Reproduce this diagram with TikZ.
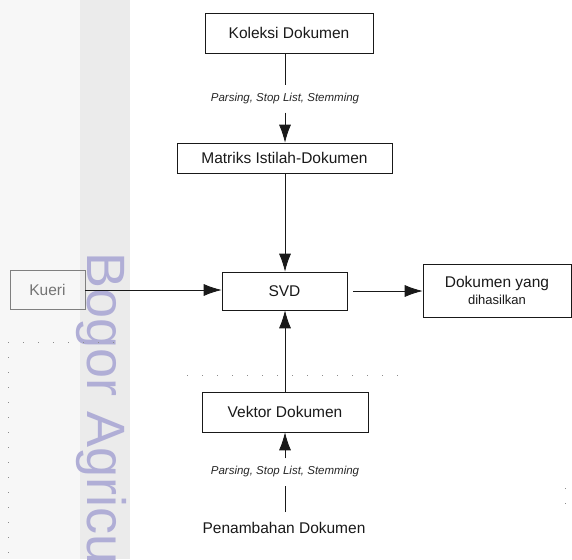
\documentclass[tikz,border=0pt]{standalone}
\usepackage{fontspec}
\setmainfont{Liberation Sans}
\usetikzlibrary{arrows.meta}
\definecolor{wm}{HTML}{B0AED6}
\definecolor{panel}{HTML}{F7F7F7}
\definecolor{band}{HTML}{EBEBEB}
\tikzset{
  box/.style={draw=black!90, line width=0.6pt, inner sep=0pt, font=\fontsize{15.5}{18}\selectfont, text=black!90},
  lab/.style={inner xsep=2pt, inner ysep=8pt, font=\itshape\fontsize{11.5}{13}\selectfont, text=black!85},
  arr/.style={-{Latex[length=18pt,width=12pt]}, line width=0.8pt, draw=black!90},
  ln/.style={line width=0.8pt, draw=black!90},
  speck/.style={draw=black!45, line width=0.6pt, dash pattern=on 1pt off 14pt}
}
\begin{document}
\begin{tikzpicture}[x=1pt,y=-1pt]
\useasboundingbox (0,0) rectangle (572,559);
% background panels
\fill[panel] (0,0) rectangle (80,559);
\fill[band] (80,0) rectangle (130,559);
\begin{scope}
\clip (0,0) rectangle (572,559);
\node[rotate=-90, anchor=north west, text=wm, font=\fontsize{54}{60}\selectfont, inner sep=0pt] (wmark) at (127,252) {Bogor Agricu};
\end{scope}
% scan specks
\draw[speck] (8,342) -- (8,559);
\draw[speck] (8,342) -- (125,342);
\draw[speck] (187,375) -- (412,375);
\draw[speck] (565,488) -- (565,505);
% nodes
\node[box, minimum width=168pt, minimum height=40pt] (kol) at (289,33) {Koleksi Dokumen};
\node[lab] (lab1) at (285,99) {Parsing, Stop List, Stemming};
\node[box, minimum width=215pt, minimum height=30pt] (mat) at (284.5,158) {Matriks Istilah-Dokumen};
\node[box, minimum width=125pt, minimum height=38pt] (svd) at (284.5,291) {SVD};
\node[box, draw=black!50, text=black!55, minimum width=75pt, minimum height=39pt] (kue) at (47.5,290) {Kueri};
\node[box, minimum width=148pt, minimum height=53pt, align=center] (dok) at (497,290.5) {Dokumen yang\\[-1pt]{\fontsize{13}{15}\selectfont dihasilkan}};
\node[box, minimum width=166pt, minimum height=40pt] (vek) at (285,412) {Vektor Dokumen};
\node[lab] (lab2) at (285,472) {Parsing, Stop List, Stemming};
\node[font=\fontsize{15.5}{18}\selectfont, text=black!90, inner sep=2pt] (pen) at (284,528) {Penambahan Dokumen};
% connectors
\draw[ln] (kol.south -| lab1) -- (lab1.north);
\draw[arr] (lab1.south) -- (mat.north -| lab1);
\draw[arr] (mat.south -| lab1) -- (svd.north -| lab1);
\draw[arr] (kue.east) -- (kue.east -| svd.west);
\draw[arr, shorten <=6pt] (svd.east) -- (svd.east -| dok.west);
\draw[arr] (vek.north -| lab1) -- (svd.south -| lab1);
\draw[ln, shorten <=8pt] (pen.north -| lab2) -- (lab2.south);
\draw[arr] (lab2.north) -- (vek.south -| lab2);
\end{tikzpicture}
\end{document}
